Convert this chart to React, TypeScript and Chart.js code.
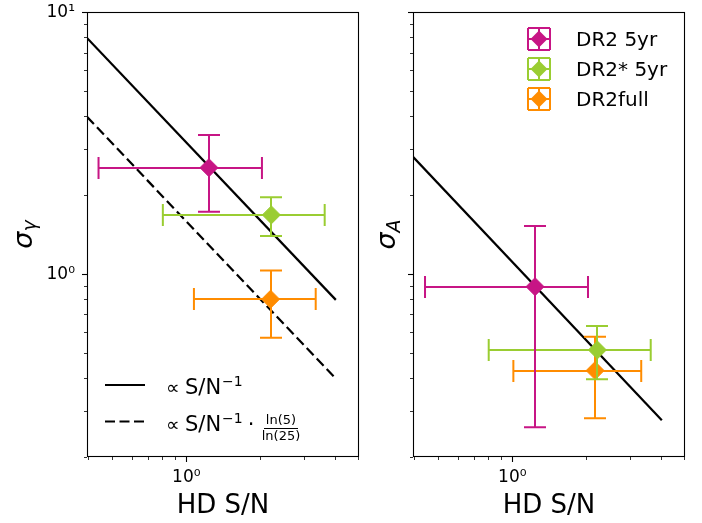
import React, { useEffect, useRef } from 'react';
import { Chart, registerables } from 'chart.js';

Chart.register(...registerables);
Chart.defaults.font.family = '"DejaVu Sans"';
Chart.defaults.color = '#000';

// ---- data ----
const seriesNames = ['DR2 5yr', 'DR2* 5yr', 'DR2full'];
const seriesColors = ['#C71585', '#9ACD32', '#FF8C00'];

// left panel: sigma_gamma vs HD S/N
const snrGamma = [1.236, 2.216, 2.2];
const snrGammaLo = [0.44, 0.803, 1.074];
const snrGammaHi = [2.029, 3.649, 3.355];
const sigmaGamma = [2.545, 1.68, 0.801];
const sigmaGammaLo = [1.729, 1.397, 0.57];
const sigmaGammaHi = [3.393, 1.962, 1.03];

// right panel: sigma_A vs HD S/N
const snrA = [1.237, 2.216, 2.17];
const snrALo = [0.442, 0.802, 1.01];
const snrAHi = [2.03, 3.65, 3.34];
const sigmaA = [0.894, 0.5125, 0.4275];
const sigmaALo = [0.26, 0.396, 0.281];
const sigmaAHi = [1.525, 0.633, 0.576];

// scaling lines
const fitSnr = [0.395, 4.05];
const gammaScaling = [7.96, 0.796];
const gammaScalingLog = [3.98, 0.398];
const aScaling = [2.8, 0.276];

// axes
const xMin = 0.395;
const xMax = 5.03;
const yMin = 0.2;
const yMax = 10;
const xTickValues = [0.4, 0.5, 0.6, 0.7, 0.8, 0.9, 1, 2, 3, 4, 5];
const yTickValues = [0.2, 0.3, 0.4, 0.5, 0.6, 0.7, 0.8, 0.9, 1, 2, 3, 4, 5, 6, 7, 8, 9, 10];
const majorTickValues = [1, 10];
const tickLabels: Record<number, string> = { 1: '10\u2070', 10: '10\u00B9' };
const xTitle = 'HD S/N';
const legendLineLabels = ['\u221D S/N\u207B\u00B9', '\u221D S/N\u207B\u00B9 \u00B7 ln(5)/ln(25)'];

const FONT = '"DejaVu Sans"';

// ---- plugins ----
const frameTicksPlugin = {
  id: 'frameTicks',
  afterDraw(chart: any) {
    const { ctx, chartArea: a, scales } = chart;
    const xs = scales.x;
    const ys = scales.y;
    ctx.save();
    ctx.strokeStyle = '#000';
    for (const v of xTickValues) {
      const major = majorTickValues.includes(v);
      const px = Math.round(xs.getPixelForValue(v)) + 0.5;
      ctx.lineWidth = major ? 1.1 : 0.8;
      ctx.beginPath();
      ctx.moveTo(px, a.bottom);
      ctx.lineTo(px, a.bottom + (major ? 5 : 3));
      ctx.stroke();
    }
    for (const v of yTickValues) {
      const major = majorTickValues.includes(v);
      const py = Math.round(ys.getPixelForValue(v)) + 0.5;
      ctx.lineWidth = major ? 1.1 : 0.8;
      ctx.beginPath();
      ctx.moveTo(a.left, py);
      ctx.lineTo(a.left - (major ? 5 : 3), py);
      ctx.stroke();
    }
    ctx.lineWidth = 1.1;
    ctx.strokeRect(a.left + 0.5, a.top + 0.5, a.right - a.left - 1, a.bottom - a.top - 1);
    ctx.restore();
  },
};

const errorBarPlugin = {
  id: 'errorBars',
  beforeDatasetDraw(chart: any, args: any) {
    const ds: any = chart.data.datasets[args.index];
    if (ds.xLo === undefined) return;
    const { ctx, chartArea: a } = chart;
    const xs = chart.scales.x;
    const ys = chart.scales.y;
    const p = ds.data[0];
    const cap = 11;
    const px = Math.round(xs.getPixelForValue(p.x));
    const py = Math.round(ys.getPixelForValue(p.y));
    const xl = xs.getPixelForValue(ds.xLo);
    const xh = xs.getPixelForValue(ds.xHi);
    const yl = ys.getPixelForValue(ds.yLo);
    const yh = ys.getPixelForValue(ds.yHi);
    ctx.save();
    ctx.beginPath();
    ctx.rect(a.left, a.top, a.right - a.left, a.bottom - a.top);
    ctx.clip();
    ctx.strokeStyle = ds.borderColor;
    ctx.lineWidth = 2;
    ctx.beginPath();
    ctx.moveTo(xl, py); ctx.lineTo(xh, py);
    ctx.moveTo(px, yl); ctx.lineTo(px, yh);
    ctx.moveTo(xl, py - cap); ctx.lineTo(xl, py + cap);
    ctx.moveTo(xh, py - cap); ctx.lineTo(xh, py + cap);
    ctx.moveTo(px - cap, yl); ctx.lineTo(px + cap, yl);
    ctx.moveTo(px - cap, yh); ctx.lineTo(px + cap, yh);
    ctx.stroke();
    ctx.restore();
  },
};

const yTitlePlugin = {
  id: 'yTitle',
  afterDraw(chart: any, _args: any, opts: any) {
    const { ctx, chartArea: a } = chart;
    const cy = (a.top + a.bottom) / 2;
    ctx.save();
    ctx.translate(opts.x, cy);
    ctx.rotate(-Math.PI / 2);
    ctx.fillStyle = '#000';
    ctx.textBaseline = 'alphabetic';
    ctx.textAlign = 'left';
    ctx.font = `italic 27px ${FONT}`;
    const w1 = ctx.measureText(opts.main).width;
    ctx.font = `italic 19px ${FONT}`;
    const w2 = ctx.measureText(opts.sub).width;
    const start = -(w1 + w2) / 2;
    ctx.font = `italic 27px ${FONT}`;
    ctx.fillText(opts.main, start, 0);
    ctx.font = `italic 19px ${FONT}`;
    ctx.fillText(opts.sub, start + w1, opts.shift);
    ctx.restore();
  },
};

const lineLegendPlugin = {
  id: 'lineLegend',
  afterDraw(chart: any) {
    const { ctx } = chart;
    ctx.save();
    ctx.strokeStyle = '#000';
    ctx.lineWidth = 2.2;
    ctx.beginPath();
    ctx.moveTo(105, 385); ctx.lineTo(145, 385);
    ctx.stroke();
    ctx.setLineDash([10, 4.5]);
    ctx.beginPath();
    ctx.moveTo(105, 421.5); ctx.lineTo(145, 421.5);
    ctx.stroke();
    ctx.setLineDash([]);
    ctx.fillStyle = '#000';
    ctx.textAlign = 'left';
    ctx.textBaseline = 'alphabetic';
    const drawBase = (baseline: number) => {
      ctx.font = `19px ${FONT}`;
      ctx.fillText('\u221D', 166, baseline);
      ctx.font = `21px ${FONT}`;
      ctx.fillText('S/N', 185, baseline);
      const w = ctx.measureText('S/N').width;
      ctx.font = `14px ${FONT}`;
      ctx.fillText('\u22121', 185 + w + 1, baseline - 8);
      return 185 + w + 1 + ctx.measureText('\u22121').width;
    };
    drawBase(394);
    const end = drawBase(431);
    ctx.font = `21px ${FONT}`;
    ctx.fillText('\u00B7', end + 5, 431);
    ctx.font = `13px ${FONT}`;
    ctx.textAlign = 'center';
    const fx = 281;
    ctx.fillText('ln(5)', fx, 424);
    ctx.fillText('ln(25)', fx, 440);
    ctx.lineWidth = 1;
    ctx.beginPath();
    ctx.moveTo(264, 428.5); ctx.lineTo(298, 428.5);
    ctx.stroke();
    ctx.restore();
  },
};

const markerLegendPlugin = {
  id: 'markerLegend',
  afterDraw(chart: any) {
    const { ctx } = chart;
    ctx.save();
    seriesNames.forEach((name, i) => {
      const cx = 159;
      const cy = 39 + 30 * i;
      const c = seriesColors[i];
      const s = 11;
      ctx.strokeStyle = c;
      ctx.lineWidth = 2;
      ctx.beginPath();
      ctx.moveTo(cx - s, cy); ctx.lineTo(cx + s, cy);
      ctx.moveTo(cx, cy - s); ctx.lineTo(cx, cy + s);
      ctx.moveTo(cx - s, cy - s); ctx.lineTo(cx - s, cy + s);
      ctx.moveTo(cx + s, cy - s); ctx.lineTo(cx + s, cy + s);
      ctx.moveTo(cx - s, cy - s); ctx.lineTo(cx + s, cy - s);
      ctx.moveTo(cx - s, cy + s); ctx.lineTo(cx + s, cy + s);
      ctx.stroke();
      const r = 8.5;
      ctx.fillStyle = c;
      ctx.beginPath();
      ctx.moveTo(cx - r, cy); ctx.lineTo(cx, cy - r); ctx.lineTo(cx + r, cy); ctx.lineTo(cx, cy + r);
      ctx.closePath();
      ctx.fill();
      ctx.fillStyle = '#000';
      ctx.font = `20px ${FONT}`;
      ctx.textAlign = 'left';
      ctx.textBaseline = 'alphabetic';
      ctx.fillText(name, 196, cy + 7);
    });
    ctx.restore();
  },
};

// ---- config builders ----
function pointDatasets(x: number[], xLo: number[], xHi: number[], y: number[], yLo: number[], yHi: number[]) {
  return seriesNames.map((name, i) => ({
    label: name,
    data: [{ x: x[i], y: y[i] }],
    xLo: xLo[i], xHi: xHi[i], yLo: yLo[i], yHi: yHi[i],
    backgroundColor: seriesColors[i],
    borderColor: seriesColors[i],
    borderWidth: 1,
    pointStyle: 'rectRot',
    pointRadius: 9,
    order: 0,
  }));
}

function lineDataset(label: string, ys: number[], dash: number[]) {
  return {
    label,
    data: fitSnr.map((x, i) => ({ x, y: ys[i] })),
    showLine: true,
    borderColor: '#000',
    backgroundColor: '#000',
    borderWidth: 2.2,
    borderDash: dash,
    pointRadius: 0,
    order: 5,
  };
}

function scalesFor(yAxisWidth: number, showYLabels: boolean) {
  return {
    x: {
      type: 'logarithmic',
      min: xMin,
      max: xMax,
      afterBuildTicks: (scale: any) => { scale.ticks = xTickValues.map((v) => ({ value: v })); },
      afterFit: (scale: any) => {
        scale.height = 66;
        scale.paddingLeft = 0; scale.paddingRight = 0; scale.paddingTop = 0; scale.paddingBottom = 0;
      },
      grid: { display: false, drawTicks: false },
      border: { display: false },
      ticks: {
        autoSkip: false,
        maxRotation: 0,
        padding: 10,
        font: { size: 17 },
        color: '#000',
        callback: (v: number) => tickLabels[v as number] ?? '',
      },
      title: {
        display: true,
        text: xTitle,
        font: { size: 26 },
        color: '#000',
        padding: { top: 0, bottom: 1.4 },
      },
    },
    y: {
      type: 'logarithmic',
      min: yMin,
      max: yMax,
      afterBuildTicks: (scale: any) => { scale.ticks = yTickValues.map((v) => ({ value: v })); },
      afterFit: (scale: any) => {
        scale.width = yAxisWidth;
        scale.paddingLeft = 0; scale.paddingRight = 0; scale.paddingTop = 0; scale.paddingBottom = 0;
      },
      grid: { display: false, drawTicks: false },
      border: { display: false },
      ticks: {
        autoSkip: false,
        padding: 12,
        labelOffset: 1,
        font: { size: 17 },
        color: '#000',
        callback: (v: number) => (showYLabels ? tickLabels[v as number] ?? '' : ''),
      },
    },
  };
}

function buildLeft(): any {
  return {
    type: 'scatter',
    data: {
      datasets: [
        lineDataset(legendLineLabels[0], gammaScaling, []),
        lineDataset(legendLineLabels[1], gammaScalingLog, [10, 4.5]),
        ...pointDatasets(snrGamma, snrGammaLo, snrGammaHi, sigmaGamma, sigmaGammaLo, sigmaGammaHi),
      ],
    },
    options: {
      responsive: false,
      animation: false,
      devicePixelRatio: 1,
      layout: { padding: { left: 0, top: 12, right: 21, bottom: 0 } },
      scales: scalesFor(87, true),
      plugins: {
        legend: { display: false },
        tooltip: { enabled: false },
        yTitle: { main: '\u03C3', sub: '\u03B3', x: 32, shift: 4 },
      },
    },
    plugins: [errorBarPlugin, frameTicksPlugin, yTitlePlugin, lineLegendPlugin],
  };
}

function buildRight(): any {
  return {
    type: 'scatter',
    data: {
      datasets: [
        lineDataset('\u221D S/N\u207B\u00B9', aScaling, []),
        ...pointDatasets(snrA, snrALo, snrAHi, sigmaA, sigmaALo, sigmaAHi),
      ],
    },
    options: {
      responsive: false,
      animation: false,
      devicePixelRatio: 1,
      layout: { padding: { left: 0, top: 12, right: 17, bottom: 0 } },
      scales: scalesFor(33, false),
      plugins: {
        legend: { display: false },
        tooltip: { enabled: false },
        yTitle: { main: '\u03C3', sub: 'A', x: 15, shift: 5 },
      },
    },
    plugins: [errorBarPlugin, frameTicksPlugin, yTitlePlugin, markerLegendPlugin],
  };
}

export default function App() {
  const leftRef = useRef<HTMLCanvasElement>(null);
  const rightRef = useRef<HTMLCanvasElement>(null);
  useEffect(() => {
    const c1 = new Chart(leftRef.current as HTMLCanvasElement, buildLeft());
    const c2 = new Chart(rightRef.current as HTMLCanvasElement, buildRight());
    return () => {
      c1.destroy();
      c2.destroy();
    };
  }, []);
  return (
    <div style={{ position: 'absolute', left: 0, top: 0, width: 702, height: 523, background: '#fff' }}>
      <canvas ref={leftRef} width={380} height={523}
        style={{ position: 'absolute', left: 0, top: 0, width: 380, height: 523 }} />
      <canvas ref={rightRef} width={322} height={523}
        style={{ position: 'absolute', left: 380, top: 0, width: 322, height: 523 }} />
    </div>
  );
}
